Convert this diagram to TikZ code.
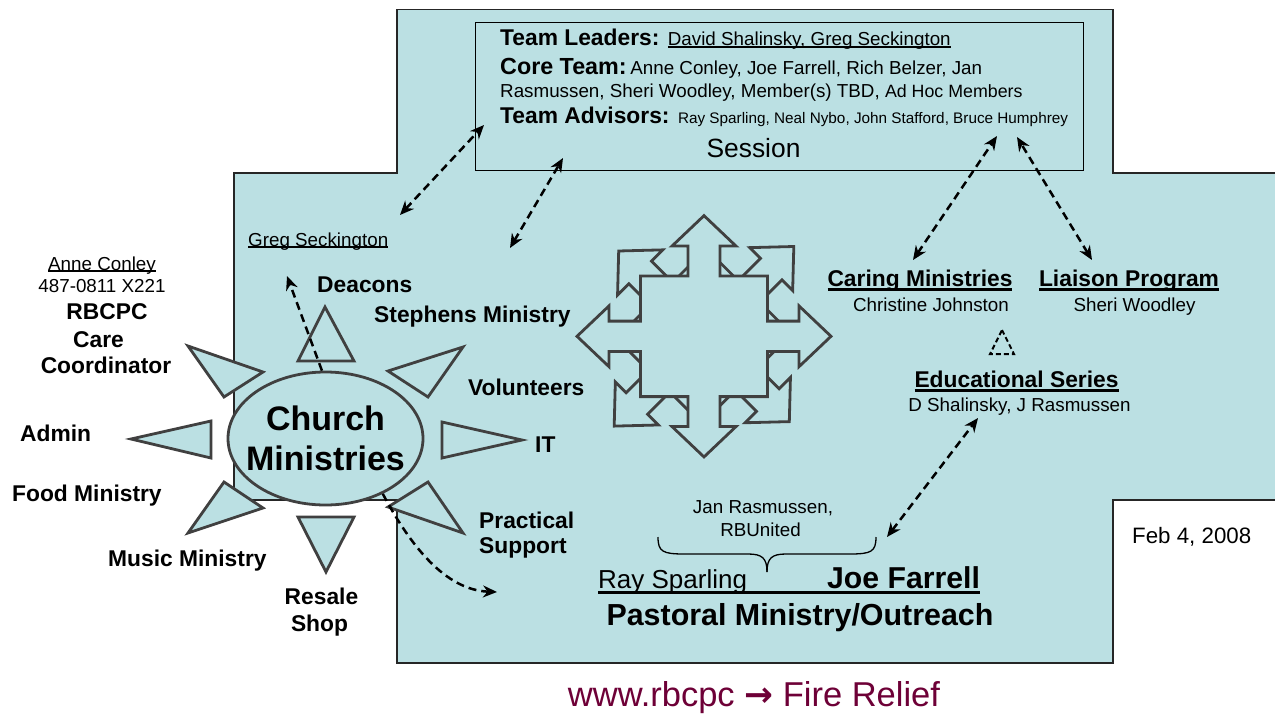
\documentclass[tikz,border=0pt]{standalone}
\usepackage{fontspec}
\setmainfont{Liberation Sans}
\newfontfamily\symfont{DejaVu Sans}
\usetikzlibrary{arrows.meta,shapes.geometric}
\definecolor{boxblue}{RGB}{187,224,227}
\definecolor{edgegray}{RGB}{64,64,64}
\definecolor{webred}{RGB}{110,0,55}
\newcommand\rg{\fontsize{18.8}{22}\selectfont\mdseries}
\newcommand\bd{\fontsize{22.8}{26}\selectfont\bfseries}
% \ulx{depth below baseline}{thickness}{text}
\newcommand\ulx[3]{\setbox0=\hbox{#3}\leavevmode\rlap{\rule[-#1]{\wd0}{#2}}\box0}
\newcommand\QuadPath[5]{(-#1,-#1) -- (-#2,-#1) -- (-#2,-#3) -- (-#4,-#3) -- (0,-#5) -- (#4,-#3) -- (#2,-#3) -- (#2,-#1) -- (#1,-#1) -- (#1,-#2) -- (#3,-#2) -- (#3,-#4) -- (#5,0) -- (#3,#4) -- (#3,#2) -- (#1,#2) -- (#1,#1) -- (#2,#1) -- (#2,#3) -- (#4,#3) -- (0,#5) -- (-#4,#3) -- (-#2,#3) -- (-#2,#1) -- (-#1,#1) -- (-#1,#2) -- (-#3,#2) -- (-#3,#4) -- (-#5,0) -- (-#3,-#4) -- (-#3,-#2) -- (-#1,-#2) -- cycle}
\tikzset{
  lbl/.style={inner sep=0pt, anchor=base},
  lblw/.style={inner sep=0pt, anchor=base west},
  tri/.style={fill=boxblue, draw=edgegray, line width=2.8pt, line join=miter},
  quad/.style={fill=boxblue, draw=edgegray, line width=2.8pt, line join=miter},
  dasharr/.style={line width=2.5pt, dash pattern=on 8pt off 5pt, -{Stealth[length=14pt,width=12pt]}},
  dasharrb/.style={line width=2.5pt, dash pattern=on 8pt off 5pt, {Stealth[length=14pt,width=12pt]}-{Stealth[length=14pt,width=12pt]}},
}
\begin{document}
\begin{tikzpicture}[x=1pt,y=-1pt]
\useasboundingbox (0,0) rectangle (1275,713);
\clip (0,0) rectangle (1275,713);
\fill[white] (0,0) rectangle (1275,713);
% cross-shaped background
\filldraw[fill=boxblue, draw=black!85, line width=1.5pt]
  (397,9.5) -- (1113,9.5) -- (1113,173) -- (1295,173) -- (1295,500) -- (1113,500)
  -- (1113,663) -- (397,663) -- (397,500) -- (234,500) -- (234,173) -- (397,173) -- cycle;
% session box
\node[draw=black, line width=1.3pt, minimum width=608pt, minimum height=148pt,
      anchor=north west, inner sep=0pt] (session) at (475,22) {};
\node[lblw] (leaders) at (500,45) {\bd Team Leaders: \rg\ulx{2.8pt}{1.5pt}{David Shalinsky, Greg Seckington}};
\node[lblw] (core) at (500,74) {{\fontsize{23.3}{26}\selectfont\bfseries Core Team:} \rg Anne Conley, Joe Farrell, Rich Belzer, Jan};
\node[lblw] (core2) at (500,97) {\rg Rasmussen, Sheri Woodley, Member(s) TBD, {\fontsize{17.8}{20}\selectfont Ad Hoc Members}};
\node[lblw] (advisors) at (500,123) {\bd Team Advisors: {\fontsize{15.3}{18}\selectfont\mdseries Ray Sparling, Neal Nybo, John Stafford, Bruce Humphrey}};
\node[lbl] (sessionlbl) at (753.5,157) {\fontsize{26.4}{30}\selectfont Session};
% central quad arrows
\begin{scope}[shift={(704,336.3)}, rotate=45, yscale=0.95]
  \filldraw[quad] \QuadPath{63.5}{16}{95}{32}{127};
\end{scope}
\begin{scope}[shift={(704,336.3)}, yscale=0.95]
  \filldraw[quad] \QuadPath{63.5}{16}{95}{32}{127};
\end{scope}
% triangles around church ministries
\filldraw[tri] (325,307) -- (354,361) -- (298,361) -- cycle;
\filldraw[tri] (188,346) -- (263,372) -- (224,397) -- cycle;
\filldraw[tri] (131,439) -- (211,421) -- (211,458) -- cycle;
\filldraw[tri] (224,482) -- (263,508) -- (188,533) -- cycle;
\filldraw[tri] (298,517) -- (354,517) -- (326,572) -- cycle;
\filldraw[tri] (388,507) -- (428,482) -- (463,533) -- cycle;
\filldraw[tri] (442,422) -- (522,440) -- (442,458) -- cycle;
\filldraw[tri] (388,371) -- (463,347) -- (428,397) -- cycle;
% ellipse
\node[ellipse, draw=edgegray, line width=2.8pt, fill=boxblue, minimum width=195pt,
      minimum height=133pt, inner sep=0pt, align=center,
      font=\fontsize{34}{40}\selectfont\bfseries] (church) at (325.5,438.5)
      {\makebox[0pt]{Church}\\\makebox[0pt]{Ministries}};
% left labels
\node[lbl] (anne) at (102,270) {\rg\ulx{1.6pt}{1.4pt}{Anne Conley}};
\node[lbl] (phone) at (102,292) {\rg 487-0811 X221};
\node[lbl] (rbcpc) at (107,319) {\bd RBCPC};
\node[lbl] (care) at (98.5,347) {\bd Care};
\node[lbl] (coord) at (106,373) {\bd Coordinator};
\node[lblw] (admin) at (20,441) {\bd Admin};
\node[lblw] (food) at (12,501) {\bd Food Ministry};
\node[lblw] (music) at (108,566) {\bd Music Ministry};
\node[lbl] (resale) at (321.5,604) {\bd Resale};
\node[lbl] (shop) at (319.5,631) {\bd Shop};
\node[lblw] (greg) at (248,246) {\rg\ulx{1.8pt}{1.4pt}{Greg Seckington}};
\node[lblw] (deacons) at (317,292) {\bd Deacons};
\node[lblw] (stephens) at (374,322) {\bd Stephens Ministry};
\node[lblw] (volunteers) at (468,395) {\bd Volunteers};
\node[lblw] (it) at (535,452) {\bd IT};
\node[lblw] (practical) at (479,528) {\bd Practical};
\node[lblw] (support) at (479,553) {\bd Support};
% right labels
\node[lbl] (caring) at (920,286) {\bd\ulx{4.6pt}{2.2pt}{Caring Ministries}};
\node[lbl] (christine) at (931,311) {\rg Christine Johnston};
\node[lbl] (liaison) at (1129,286) {\bd\ulx{4.6pt}{2.2pt}{Liaison Program}};
\node[lbl] (sheri) at (1134.5,311) {\rg Sheri Woodley};
\node[lbl] (edu) at (1016.5,387) {\bd\ulx{4.6pt}{2.2pt}{Educational Series}};
\node[lbl] (edunames) at (1019.5,411) {\rg D Shalinsky, J Rasmussen};
\draw[line width=2pt, dash pattern=on 5pt off 3pt] (1002,330) -- (1014,354) -- (990,354) -- cycle;
% bottom
\node[lbl] (jan) at (763,513) {\rg Jan Rasmussen,};
\node[lbl] (rbunited) at (760.5,536) {\rg RBUnited};
\draw[line width=1.3pt] (658,537) .. controls (658,552) and (663,554) .. (685,554) -- (748,554)
  .. controls (762,554) and (767,558) .. (767,572);
\draw[line width=1.3pt] (876,537) .. controls (876,552) and (871,554) .. (849,554) -- (786,554)
  .. controls (772,554) and (767,558) .. (767,572);
\node[lblw] (farrell) at (598,588) {\fontsize{26}{30}\selectfont\ulx{5.5pt}{2.6pt}{\makebox[229pt][l]{Ray Sparling}{\fontsize{30.2}{34}\selectfont\bfseries Joe Farrell}}};
\node[lbl] (pastoral) at (800,625) {\fontsize{30.4}{34}\selectfont\bfseries Pastoral Ministry/Outreach};
\node[lblw] (date) at (1132,543) {\fontsize{22.3}{26}\selectfont Feb 4, 2008};
\node[lbl, text=webred] (web) at (754,706) {\fontsize{34.5}{40}\selectfont www.rbcpc {\symfont\bfseries →} Fire Relief};
% dashed connectors
\coordinate (g1) at (400,215); \coordinate (s1) at (484,125);
\coordinate (g2) at (510,248); \coordinate (s2) at (563,158);
\coordinate (c1) at (913,260); \coordinate (s3) at (997,136);
\coordinate (l1) at (1092,260); \coordinate (s4) at (1017,137);
\coordinate (j1) at (887,537); \coordinate (e1) at (978,418);
\coordinate (d1) at (287,276);
\coordinate (p1) at (497,592);
\draw[dasharrb] (g1) -- (s1);
\draw[dasharrb] (g2) -- (s2);
\draw[dasharrb] (c1) -- (s3);
\draw[dasharrb] (l1) -- (s4);
\draw[dasharrb] (j1) -- (e1);
\draw[dasharr] (church.93) -- (d1);
\draw[dasharr] (church.-44) .. controls (410,545) and (445,590) .. (p1);
\end{tikzpicture}
\end{document}
